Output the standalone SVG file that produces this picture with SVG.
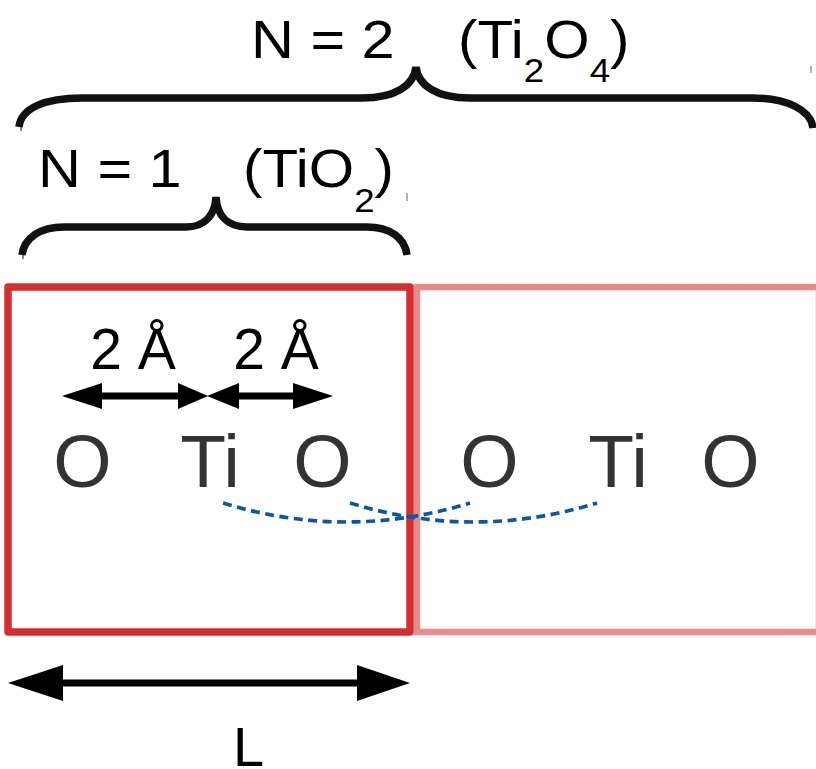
<svg xmlns="http://www.w3.org/2000/svg" width="816" height="769" viewBox="0 0 816 769">
<style>
.brace{fill:none;stroke:#111;stroke-width:7.5;stroke-linecap:butt}
.tick{stroke:#999;stroke-width:1.5}
.lbl{font-family:"Liberation Sans",Arial,sans-serif;fill:#000}
.atom{font-family:"Liberation Sans",Arial,sans-serif;font-size:75px;fill:#333}
.dash{fill:none;stroke:#0b57a4;stroke-width:3.7;stroke-dasharray:9 5.5}
.shaft{stroke:#000;stroke-width:7}
</style>
<rect width="816" height="769" fill="#fff"/>
<g id="brace-n2">
<path class="brace" d="M19,127 C21,108 45,98 82,98 L362,98 C396,98 414,85 416,67 C418,85 436,98 470,98 L752,98 C787,98 811,110 813,128"/>
<line class="tick" x1="811" y1="66" x2="811" y2="73"/>
<line x1="21" y1="127" x2="21" y2="131" stroke="#333" stroke-width="1.2"/>
<text class="lbl" font-size="54" transform="translate(251,58) scale(1.1,1)">N = 2</text>
<text class="lbl" font-size="54" transform="translate(458,58) scale(1.08,1)">(Ti<tspan font-size="34" dy="24">2</tspan><tspan dy="-24">O</tspan><tspan font-size="34" dy="24">4</tspan><tspan dy="-24">)</tspan></text>
</g>
<g id="brace-n1">
<path class="brace" d="M22,255 C24,238 40,227 64,227 L186,227 C205,227 215,215 216,197 C217,215 227,227 247,227 L367,227 C390,227 405,238 407,255"/>
<line class="tick" x1="407" y1="193" x2="407" y2="201"/>
<line x1="23" y1="255" x2="23" y2="259" stroke="#333" stroke-width="1.2"/>
<text class="lbl" font-size="54" transform="translate(38,187) scale(1.1,1)">N = 1</text>
<text class="lbl" font-size="54" transform="translate(243,187) scale(1.08,1)">(TiO<tspan font-size="34" dy="25">2</tspan><tspan dy="-25">)</tspan></text>
</g>
<g id="cell2">
<rect x="417" y="287" width="402" height="345" fill="none" stroke="#e88a8a" stroke-width="6.5"/>
<text class="atom" x="460.3" y="487">O</text>
<text class="atom" x="588.3" y="487">Ti</text>
<text class="atom" x="701.3" y="487">O</text>
</g>
<g id="cell1">
<rect x="8" y="287" width="402" height="345" fill="none" stroke="#d32f2f" stroke-width="7.5" stroke-linejoin="round"/>
<text class="atom" x="53.3" y="487">O</text>
<text class="atom" x="180.3" y="487">Ti</text>
<text class="atom" x="293.3" y="487">O</text>
</g>
<g id="connectors">
<path class="dash" d="M223,503 Q346.5,541 470,503"/>
<path class="dash" d="M350,503 Q473.5,541 597,503"/>
<line class="shaft" x1="95" y1="396" x2="185" y2="396"/>
<polygon points="62,396 102,383 102,409"/>
<polygon points="208,396 178,383 178,409"/>
<line class="shaft" x1="232" y1="396" x2="300" y2="396"/>
<polygon points="207,396 239,383 239,409"/>
<polygon points="333,396 293,383 293,409"/>
<line class="shaft" x1="55" y1="683" x2="365" y2="683"/>
<polygon points="8,683 63,665 63,701"/>
<polygon points="410,683 357,665 357,701"/>
</g>
<g id="labels">
<text class="lbl" font-size="57" x="90.3" y="369">2 Å</text>
<text class="lbl" font-size="57" x="233.3" y="369">2 Å</text>
<text class="lbl" font-size="56" x="233" y="766">L</text>
</g>
</svg>
